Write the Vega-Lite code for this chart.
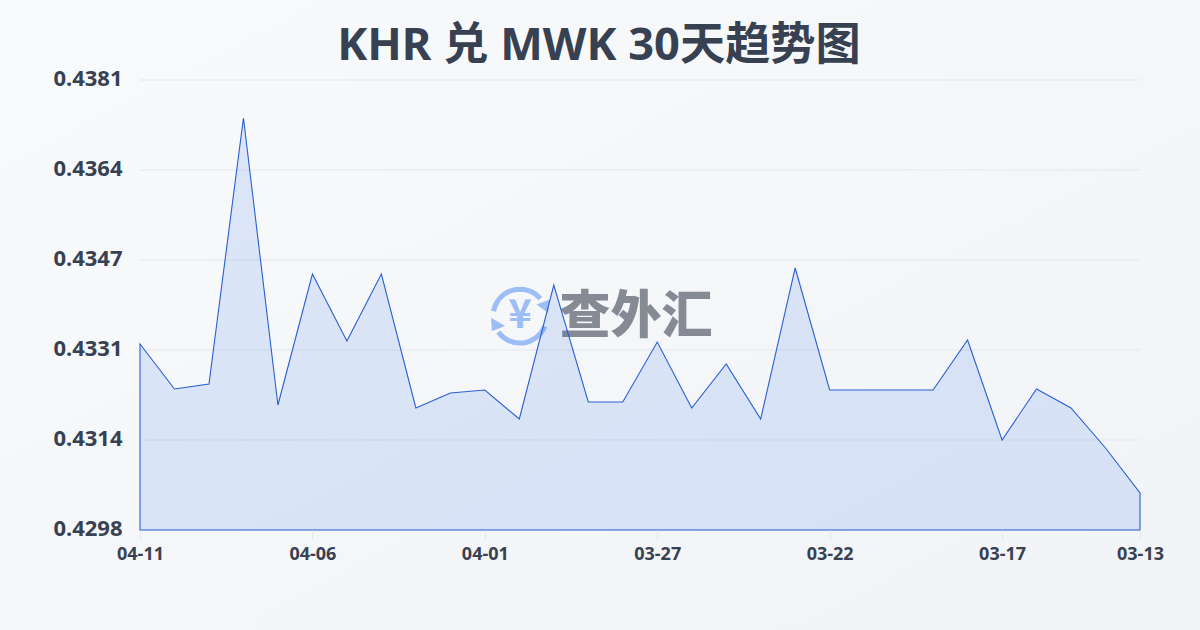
{
"$schema":"https://vega.github.io/schema/vega-lite/v6.json",
"width":1000,"height":450,
"autosize":{"type":"none"},
"padding":{"left":140,"top":80,"right":60,"bottom":100},
"background":"#f6f8fa",
"title":{"text":"KHR 兑 MWK 30天趋势图","font":"Noto Sans, Noto Sans CJK SC","fontSize":45.2,"fontWeight":"bold","color":"#374151","anchor":"middle","dx":-41,"dy":69,"offset":0},
"config":{"view":{"stroke":null},"font":"Noto Sans, Noto Sans CJK SC"},
"datasets":{
"rates":[
{"date":"2025-04-11","rate":0.433197},{"date":"2025-04-10","rate":0.432368},{"date":"2025-04-09","rate":0.43246},{"date":"2025-04-08","rate":0.43736},{"date":"2025-04-07","rate":0.432073},{"date":"2025-04-06","rate":0.434486},{"date":"2025-04-05","rate":0.433252},{"date":"2025-04-04","rate":0.434486},{"date":"2025-04-03","rate":0.432018},{"date":"2025-04-02","rate":0.432294},{"date":"2025-04-01","rate":0.432349},{"date":"2025-03-31","rate":0.431815},{"date":"2025-03-30","rate":0.434283},{"date":"2025-03-29","rate":0.432128},{"date":"2025-03-28","rate":0.432128},{"date":"2025-03-27","rate":0.433233},{"date":"2025-03-26","rate":0.432018},{"date":"2025-03-25","rate":0.432828},{"date":"2025-03-24","rate":0.431815},{"date":"2025-03-23","rate":0.434597},{"date":"2025-03-22","rate":0.432349},{"date":"2025-03-21","rate":0.432349},{"date":"2025-03-20","rate":0.432349},{"date":"2025-03-19","rate":0.432349},{"date":"2025-03-18","rate":0.43327},{"date":"2025-03-17","rate":0.431428},{"date":"2025-03-16","rate":0.432368},{"date":"2025-03-15","rate":0.432018},{"date":"2025-03-14","rate":0.431281},{"date":"2025-03-13","rate":0.430452}
],
"ticks":[{"tick":0.42977},{"tick":0.431428},{"tick":0.433086},{"tick":0.434744},{"tick":0.436402},{"tick":0.43806}],
"one":[{"label":"查外汇","yen":"¥"}]
},
"layer":[
{"data":{"name":"one"},
"mark":{"type":"rect","clip":false,"fill":{"gradient":"linear","x1":0,"y1":0,"x2":1,"y2":1,"stops":[{"offset":0,"color":"#f8fafc"},{"offset":1,"color":"#f1f3f6"}]}},
"encoding":{"x":{"datum":1744680384000,"type":"temporal","scale":{"type":"utc","domain":[1741824000000,1744329600000],"reverse":true},
"axis":{"title":null,"values":[1744329600000,1743897600000,1743465600000,1743033600000,1742601600000,1742169600000,1741824000000],"labelExpr":"utcFormat(datum.value,'%m-%d')","grid":false,"domain":false,"tickColor":"#e5e7eb","tickSize":10,"labelFontSize":18,"labelFontWeight":"bold","labelColor":"#374151","labelPadding":5,"labelFlush":false,"labelOverlap":false,"zindex":1}},"x2":{"datum":1741673664000},
"y":{"datum":0.4395338,"type":"quantitative","scale":{"domain":[0.42977,0.43806],"zero":false,"nice":false},
"axis":{"title":null,"values":[0.42977,0.431428,0.433086,0.434744,0.436402,0.43806],"format":".4f","grid":false,"domain":false,"ticks":false,"labelFontSize":22,"labelFontWeight":"bold","labelColor":"#374151","labelPadding":18,"labelOffset":-2,"zindex":1}},"y2":{"datum":0.42792778}}},
{"data":{"name":"ticks"},"mark":{"type":"rule","color":"#e5e7eb","strokeWidth":1},"encoding":{"y":{"field":"tick","type":"quantitative"}}},
{"data":{"name":"one"},"mark":{"type":"point","filled":false,"stroke":"#9dbdf5","strokeWidth":5,"opacity":1,"shape":"M-0.91,-0.17 A0.92,0.92 0 0 1 0.7,-0.6 M0.85,0.35 A0.92,0.92 0 0 1 -0.75,0.55","size":3364},
"encoding":{"x":{"datum":1743377472000,"type":"temporal"},"y":{"datum":0.43371,"type":"quantitative"}}},
{"data":{"name":"one"},"mark":{"type":"point","filled":true,"fill":"#9dbdf5","opacity":1,"shape":"M0.57,-0.40 L1.02,-0.57 L0.97,-0.11 Z M-1,0.06 L-0.51,0.34 L-0.97,0.51 Z","size":3364},
"encoding":{"x":{"datum":1743377472000,"type":"temporal"},"y":{"datum":0.43371,"type":"quantitative"}}},
{"data":{"name":"one"},"mark":{"type":"text","font":"Noto Sans CJK SC","fontWeight":"bold","fontSize":40,"color":"#9dbdf5","baseline":"middle","align":"center"},
"encoding":{"x":{"datum":1743377472000,"type":"temporal"},"y":{"datum":0.43371,"type":"quantitative"},"text":{"field":"yen"}}},
{"data":{"name":"one"},"mark":{"type":"text","font":"Noto Sans CJK SC","fontWeight":900,"fontSize":51,"color":"#858a94","baseline":"middle","align":"center"},
"encoding":{"x":{"datum":1743086822400,"type":"temporal"},"y":{"datum":0.43367,"type":"quantitative"},"text":{"field":"label"}}},
{"data":{"name":"rates"},"mark":{"type":"area","fill":"#2563eb","fillOpacity":0.13,"stroke":"#2a5fd0","strokeWidth":1.1},
"encoding":{
"x":{"field":"date","type":"temporal"},
"y":{"field":"rate","type":"quantitative"},
"y2":{"datum":0.42977}
}}
]
}
